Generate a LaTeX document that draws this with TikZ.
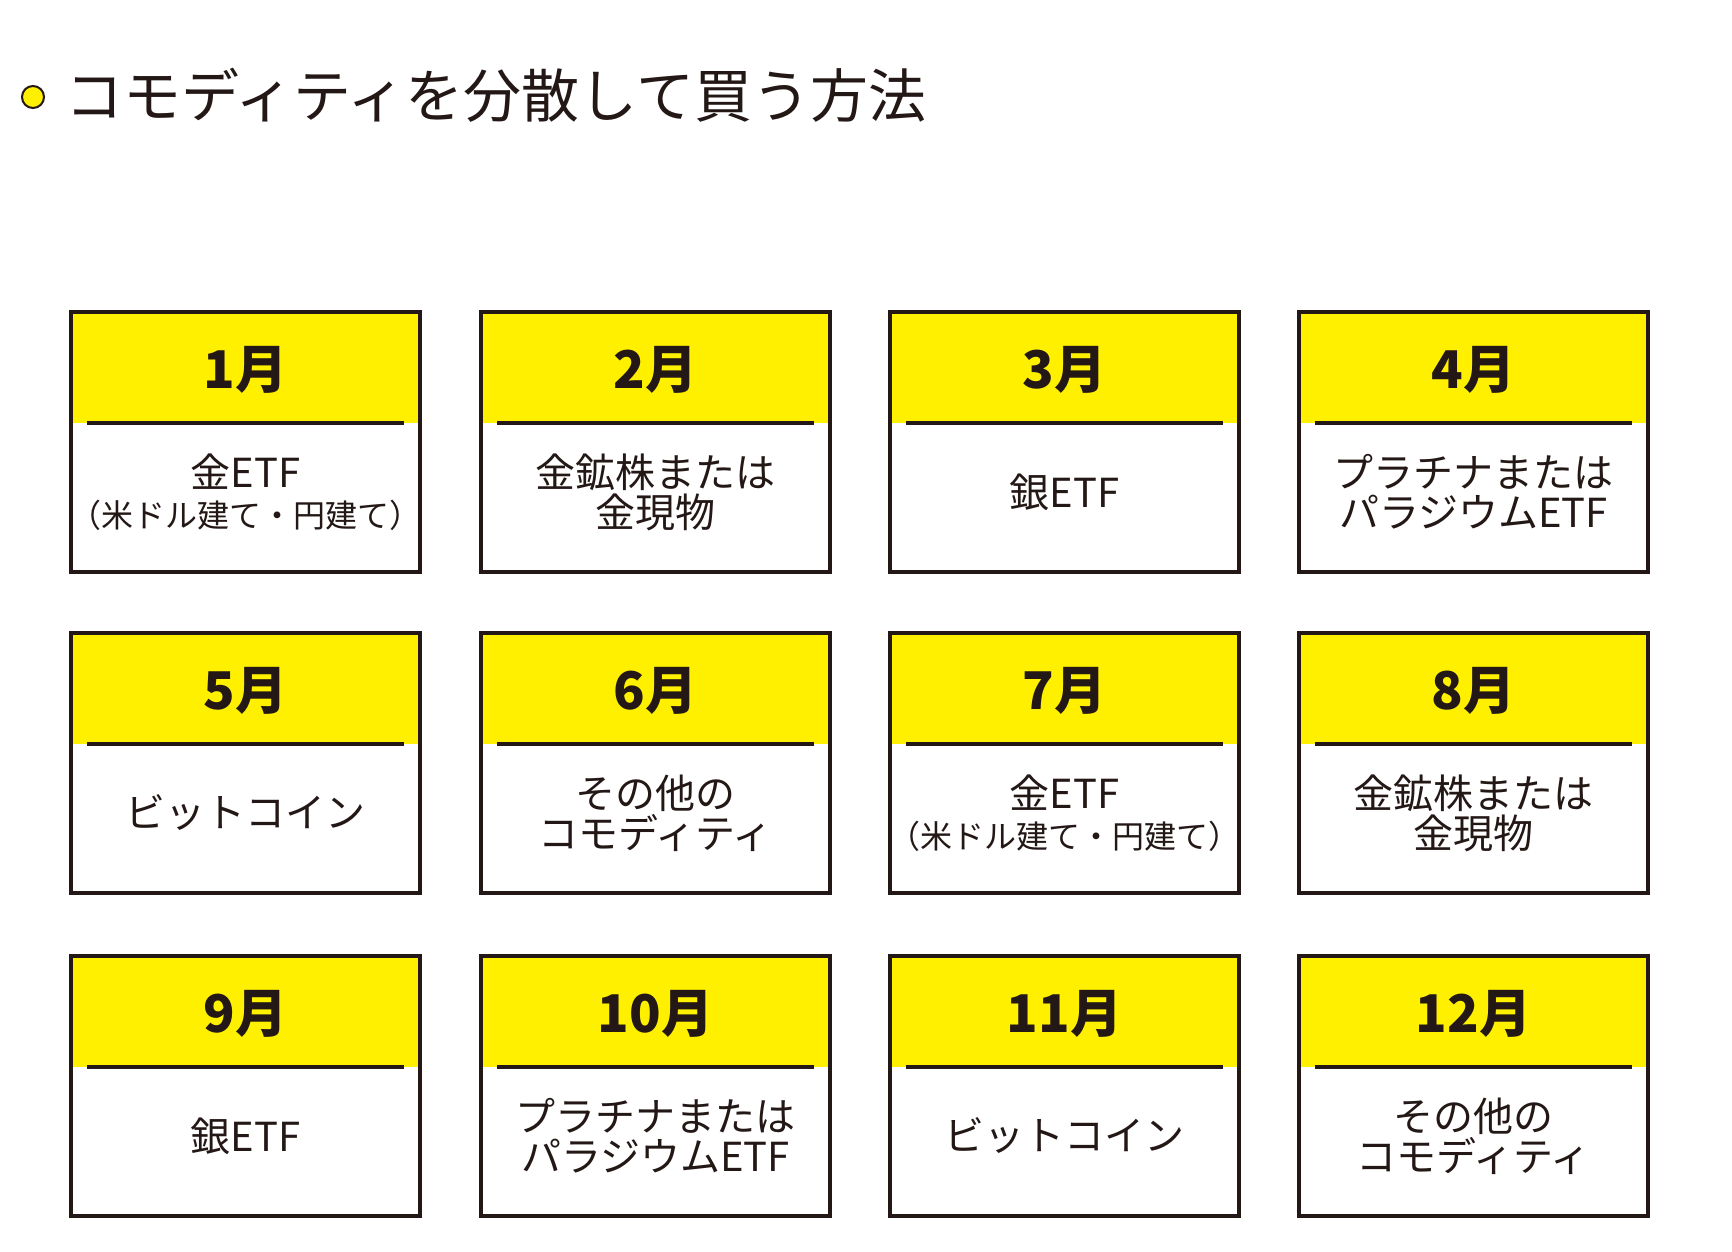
\documentclass[tikz,border=0pt]{standalone}
\usepackage{fontspec}
\setmainfont{Noto Sans CJK JP}
\newfontfamily\jpb{Noto Sans CJK JP}[FakeBold=0]
\definecolor{ink}{HTML}{231815}
\definecolor{yel}{HTML}{FFF000}
\begin{document}
\begin{tikzpicture}[x=1pt,y=1pt,
  mon/.style={font=\fontsize{52}{56}\selectfont\bfseries, text=ink},
  bod/.style={font=\fontsize{40}{46}\selectfont, text=ink, align=center},
  sub/.style={font=\fontsize{32}{36}\selectfont, text=ink}]
\useasboundingbox (0,0) rectangle (1732,-1252);
\fill[yel,draw=ink,line width=2] (33,-97) circle (11);
\node[anchor=west,text=ink,font=\fontsize{58}{62}\selectfont] (title) at (62,-95) {コモディティを分散して買う方法};
\newcommand\mybox[5]{% x y month name body
  \begin{scope}[shift={(#1,#2)}]
  \fill[yel] (0,0) rectangle (349,-111);
  \draw[ink,line width=4.5] (0,0) rectangle (349,-260);
  \draw[ink,line width=4] (16,-111) -- (333,-111);
  \node[mon] (#4m) at (174.5,-58) {#3};
  \node[bod] (#4b) at (174.5,-180) {#5};
  \end{scope}}
\mybox{71}{-312}{1月}{a}{金ETF\\[-6pt]{\fontsize{32}{36}\selectfont（米ドル建て・円建て）}}
\mybox{481}{-312}{2月}{b}{金鉱株または\\[-6pt]金現物}
\mybox{890}{-312}{3月}{c}{銀ETF}
\mybox{1299}{-312}{4月}{d}{プラチナまたは\\[-6pt]パラジウムETF}
\mybox{71}{-633}{5月}{e}{ビットコイン}
\mybox{481}{-633}{6月}{f}{その他の\\[-6pt]コモディティ}
\mybox{890}{-633}{7月}{g}{金ETF\\[-6pt]{\fontsize{32}{36}\selectfont（米ドル建て・円建て）}}
\mybox{1299}{-633}{8月}{h}{金鉱株または\\[-6pt]金現物}
\mybox{71}{-956}{9月}{i}{銀ETF}
\mybox{481}{-956}{10月}{j}{プラチナまたは\\[-6pt]パラジウムETF}
\mybox{890}{-956}{11月}{k}{ビットコイン}
\mybox{1299}{-956}{12月}{l}{その他の\\[-6pt]コモディティ}
\end{tikzpicture}
\end{document}
